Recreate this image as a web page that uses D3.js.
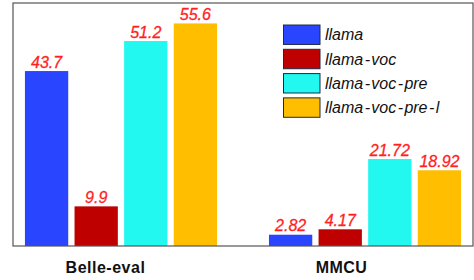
<!DOCTYPE html>
<html>
<head>
<meta charset="utf-8">
<script src="https://cdn.jsdelivr.net/npm/d3@7"></script>
<style>
  html, body { margin: 0; padding: 0; background: #fff; }
  svg { display: block; }
</style>
</head>
<body>
<svg id="chart" width="474" height="280"></svg>
<script>
const categories = ["Belle-eval", "MMCU"];
const seriesNames = ["llama", "llama-voc", "llama-voc-pre", "llama-voc-pre-l"];
const llama = [43.7, 2.82];
const llamaVoc = [9.9, 4.17];
const llamaVocPre = [51.2, 21.72];
const llamaVocPreL = [55.6, 18.92];
const valueLabels = [["43.7", "2.82"], ["9.9", "4.17"], ["51.2", "21.72"], ["55.6", "18.92"]];
const colors = ["#2a45ff", "#be0000", "#22f8f0", "#ffbf00"];

const seriesValues = [llama, llamaVoc, llamaVocPre, llamaVocPreL];

const svg = d3.select("#chart");
const plotLeft = 13, plotRight = 473, plotTop = 3, plotBottom = 246;

const x0 = d3.scaleBand().domain(categories).range([plotLeft, plotRight])
  .paddingInner(0.187).paddingOuter(0.036);
const x1 = d3.scaleBand().domain(seriesNames).range([0, x0.bandwidth()])
  .paddingInner(0.127).paddingOuter(0.0635);
const y = d3.scaleLinear().domain([0, 60.7]).range([plotBottom, plotTop]);

const data = [];
categories.forEach((c, ci) => {
  seriesNames.forEach((s, si) => {
    data.push({cat: c, ser: s, si, v: seriesValues[si][ci], label: valueLabels[si][ci]});
  });
});

svg.append("g").selectAll("rect").data(data).join("rect")
  .attr("x", d => x0(d.cat) + x1(d.ser))
  .attr("y", d => y(d.v))
  .attr("width", x1.bandwidth())
  .attr("height", d => y(0) - y(d.v))
  .attr("fill", d => colors[d.si]);

svg.append("g").selectAll("text").data(data).join("text")
  .attr("x", d => x0(d.cat) + x1(d.ser) + x1.bandwidth() / 2)
  .attr("y", d => y(d.v) - 3.5)
  .attr("text-anchor", "middle")
  .attr("font-family", "'Liberation Sans', Arial, sans-serif")
  .attr("font-style", "italic")
  .attr("font-size", 16)
  .attr("fill", "#ff1f1f")
  .attr("stroke", "#ff1f1f")
  .attr("stroke-width", 0.3)
  .text(d => d.label);

// frame
svg.append("rect")
  .attr("x", plotLeft).attr("y", plotTop)
  .attr("width", plotRight - plotLeft).attr("height", plotBottom - plotTop)
  .attr("fill", "none").attr("stroke", "#555").attr("stroke-width", 1.2);

// x axis labels
const xAxis = d3.axisBottom(d3.scalePoint().domain(categories)
  .range([x0(categories[0]) + x0.bandwidth() / 2 - 16, x0(categories[1]) + x0.bandwidth() / 2 - 24]))
  .tickSize(0).tickPadding(0);
const gx = svg.append("g").attr("transform", `translate(0,${plotBottom})`).call(xAxis);
gx.select(".domain").remove();
gx.selectAll("text")
  .attr("y", 27)
  .attr("dy", 0)
  .attr("font-family", "'Liberation Sans', Arial, sans-serif")
  .attr("font-weight", "bold")
  .attr("font-size", 16)
  .attr("letter-spacing", 0.5)
  .attr("fill", "#111");

// legend
const legY = d3.scaleBand().domain(seriesNames).range([23.8, 118.5]).paddingInner(0.2).paddingOuter(0.05);
const leg = svg.append("g");
const items = leg.selectAll("g").data(seriesNames).join("g")
  .attr("transform", d => `translate(283.5,${legY(d)})`);
items.append("rect")
  .attr("width", 36.5).attr("height", legY.bandwidth())
  .attr("fill", (d, i) => colors[i])
  .attr("stroke", "#1c2b48").attr("stroke-width", 1);
items.append("text")
  .attr("x", 41.5)
  .attr("y", legY.bandwidth() / 2)
  .attr("dy", "0.35em")
  .attr("font-family", "'Liberation Sans', Arial, sans-serif")
  .attr("font-style", "italic")
  .attr("font-size", 16)
  .attr("fill", "#111")
  .each(function(d) {
    const t = d3.select(this);
    const parts = d.split("-");
    parts.forEach((p, i) => {
      if (i > 0) t.append("tspan").attr("dx", 1.4).text("-");
      t.append("tspan").attr("dx", i > 0 ? 1.4 : 0).text(p);
    });
  });
</script>
</body>
</html>
